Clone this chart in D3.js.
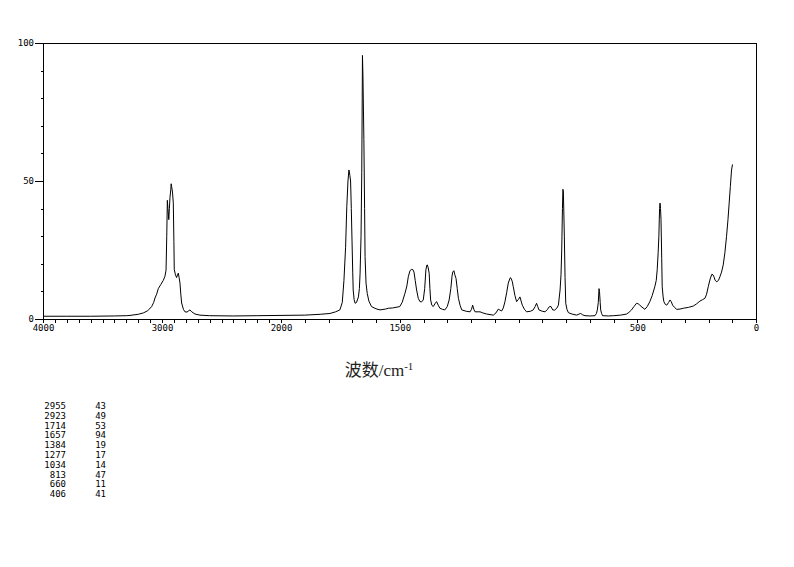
<!DOCTYPE html>
<html><head><meta charset="utf-8">
<script src="https://cdn.jsdelivr.net/npm/d3@7/dist/d3.min.js"></script>
<style>body{margin:0;background:#fff}svg{display:block}</style>
</head><body>
<script>
// Spectrum: wavenumber (cm-1) and intensity
const wavenumbers = [4000,3800,3600,3400,3300,3269,3200,3157,3120,3087,3070,3059,3045,3031,3010,2989,2975,2966,2960,2955,2950,2943,2938,2933,2926,2923,2919,2912,2905,2900,2897,2887,2877,2870,2863,2856,2849,2842,2835,2820,2807,2790,2775,2765,2750,2723,2681,2600,2400,2200,2000,1900,1835,1794,1770,1752,1742,1735,1728,1723,1718,1714,1710,1707,1704,1701,1698,1696,1692,1688,1682,1674,1670,1667,1663,1660,1658,1657,1655,1651,1648,1646,1642,1637,1630,1619,1600,1583,1560,1548,1530,1500,1490,1478,1470,1464,1457,1450,1444,1440,1435,1429,1422,1415,1408,1401,1395,1390,1386,1384,1380,1376,1373,1370,1365,1359,1352,1345,1338,1331,1320,1310,1300,1292,1285,1280,1277,1272,1268,1263,1258,1253,1246,1239,1220,1204,1198,1193,1188,1183,1170,1162,1150,1134,1120,1106,1095,1085,1078,1071,1064,1057,1050,1043,1037,1034,1030,1026,1022,1015,1008,1001,994,989,984,975,966,950,938,930,924,919,914,900,888,878,870,863,856,848,839,832,825,821,818,815,813,811,807,804,801,796,790,775,755,745,738,730,720,700,678,672,668,664,661,659,656,654,650,646,620,601,570,545,535,524,514,503,496,489,480,468,458,447,437,426,420,416,412,409,406,404,402,400,397,395,391,388,382,376,368,362,357,351,343,334,320,306,285,264,250,236,225,215,208,201,193,186,181,177,172,165,158,152,145,138,131,124,118,113,108,103,99];
const intensities = [1.0,1.0,1.0,1.1,1.2,1.3,1.7,2.2,3,4.5,6,7.6,9,11,12.5,14,15.5,17.7,30,43,40,36,40,44,47,49,48,46,42,28,18,16,15,16,16.6,15,13,9,5.8,3.5,2.6,2.5,3,3.3,2.6,1.8,1.4,1.2,1.1,1.2,1.3,1.4,1.7,2,2.6,3.3,6,14,26,40.7,50,54,52,50,40,28.6,17,10.5,7,5.7,6,8,11,16.6,30,53,80,95.5,88,65,40,22.6,13,9.3,6.5,4.5,3.7,3.3,3.6,3.9,4,4.5,6,9.3,12,15.3,17.5,18,17.8,17,14,10.5,7.5,6.3,6.2,6.9,11,17.8,19.5,19.6,18.5,16.5,11,6.9,5,4.5,5.5,6.3,5,3.9,3.5,3.3,4.5,6.9,11,15.5,17,17.5,16,14.7,11,7.5,5,3.3,2.8,2.6,3.5,5,3.5,2.6,2.6,2.6,2.2,1.8,1.6,1.4,2.2,3.6,3.2,2.9,4,6.3,9.5,13,14.5,15,14.5,13.5,11.7,8.5,6.3,7,8,6.5,5,3.5,2.6,2.8,3.3,4.5,5.7,4.5,3.3,2.8,2.6,3.5,4.5,4.5,3.3,3.2,3.9,5,10.5,16,25,40,47,46,30,15,5.7,3.5,2.3,1.8,1.4,1.8,2,1.5,1.2,1.1,1.2,2,3.3,6,11,10,6,3.3,2,1.2,1.1,1.2,1.4,1.8,2.4,3.3,4.5,5.7,5.5,5,4.3,3.5,4.5,6.3,8.5,11.7,14,17.8,24,30,40,42,40,36,22,11.7,8,6.3,5.3,5,6,6.9,6.3,5,4.2,3.5,3.6,3.9,4.2,4.7,5.5,6.5,7,7.5,9,11.7,14.5,16.2,16,15.3,14,13.5,14,15.3,17,19.6,24,30,36,42,48,54,56];

// Axis ticks
const xTickLabels = [4000,3000,2000,1500,500,0];
const yTickLabels = [0,50,100];

// Peak table
const peakWavenumbers = [2955,2923,1714,1657,1384,1277,1034,813,660,406];
const peakIntensities = [43,49,53,94,19,17,14,47,11,41];

const W = 794, H = 567;
const svg = d3.select("body").append("svg").attr("width", W).attr("height", H);

const x = d3.scaleLinear().domain([4000, 2000, 0]).range([43, 281, 756]);
const y = d3.scaleLinear().domain([0, 100]).range([319, 43]);

const tickFont = "'DejaVu Sans Mono', 'Liberation Mono', monospace";

// frame
svg.append("path")
  .attr("d", `M${x(4000)},${y(0)}V${y(100)}H${x(0)}V${y(0)}`)
  .attr("fill", "none").attr("stroke", "#000").attr("stroke-width", 1)
  .attr("shape-rendering", "crispEdges");

// x axis
const xMinor = d3.range(4000, -1, -100);
const xAxis = d3.axisBottom(x).tickValues(xMinor).tickSize(4)
  .tickFormat(d => xTickLabels.includes(d) ? d : "");
const gx = svg.append("g").attr("transform", `translate(0,${y(0)})`).call(xAxis);
gx.select(".domain").attr("shape-rendering", "crispEdges");
gx.selectAll(".tick line").attr("shape-rendering", "crispEdges");
gx.selectAll("text").attr("font-family", tickFont).attr("font-size", 9).attr("fill", "#000").attr("dy", "0.9em").attr("y", 4);

// y axis
const yAxis = d3.axisLeft(y).tickValues(d3.range(0, 101, 10))
  .tickSize(0).tickFormat(d => yTickLabels.includes(d) ? d : "");
const gy = svg.append("g").attr("transform", `translate(${x(4000)},0)`).call(yAxis);
gy.select(".domain").attr("shape-rendering", "crispEdges");
gy.selectAll(".tick line")
  .attr("x2", d => yTickLabels.includes(d) ? -8 : -2)
  .attr("shape-rendering", "crispEdges");
gy.selectAll("text").attr("font-family", tickFont).attr("font-size", 9).attr("fill", "#000").attr("x", -9);

// spectrum
const pts = wavenumbers.map((w, i) => [w, intensities[i]]);
const line = d3.line().x(d => x(d[0])).y(d => y(d[1]));
svg.append("path").datum(pts).attr("d", line)
  .attr("fill", "none").attr("stroke", "#000").attr("stroke-width", 1);

// x axis title
const title = svg.append("text").attr("x", 379).attr("y", 376)
  .attr("text-anchor", "middle")
  .attr("font-family", "'Liberation Serif', 'Noto Sans CJK SC', serif")
  .attr("font-size", 17).attr("fill", "#222");
title.append("tspan").text("波数/cm");
title.append("tspan").attr("dy", -6).attr("font-size", 11).text("-1");

// peak table
const tbl = svg.append("g").attr("font-family", tickFont).attr("font-size", 9).attr("fill", "#000");
peakWavenumbers.forEach((w, i) => {
  const ty = 409 + i * 9.8;
  tbl.append("text").attr("x", 66).attr("y", ty).attr("text-anchor", "end").text(w);
  tbl.append("text").attr("x", 106).attr("y", ty).attr("text-anchor", "end").text(peakIntensities[i]);
});
</script>
</body></html>
